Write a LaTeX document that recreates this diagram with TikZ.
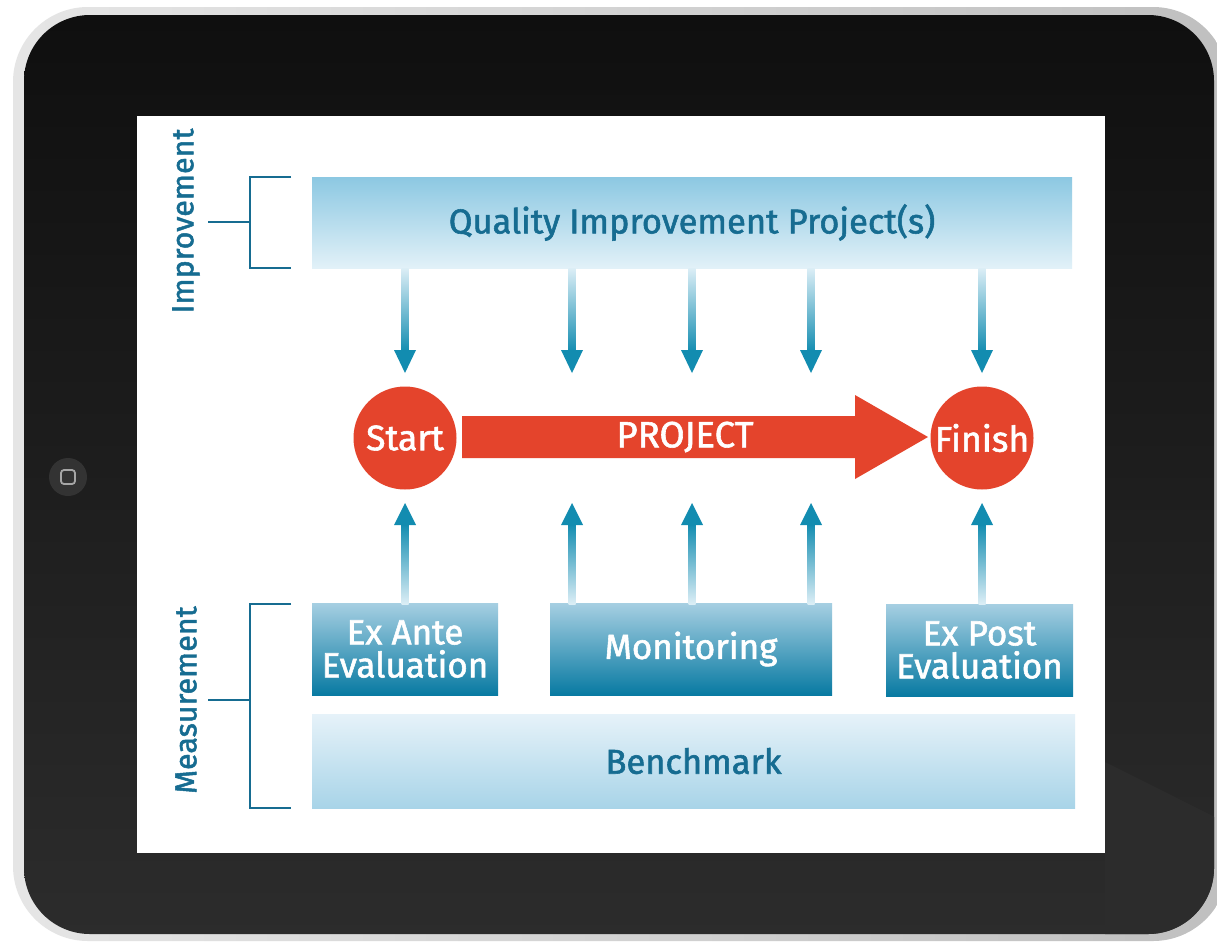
\documentclass[tikz,border=0pt]{standalone}
\usepackage{fontspec}
\setmainfont{Fira Sans}
\newfontfamily\diagfont{Fira Sans}[FakeBold=1.6]
\usetikzlibrary{positioning}

\definecolor{tealtext}{RGB}{22,108,145}
\definecolor{projred}{RGB}{228,68,44}
\definecolor{boxdark}{RGB}{8,122,162}
\definecolor{boxlight}{RGB}{166,207,226}
\definecolor{bartop}{RGB}{140,200,226}
\definecolor{barbottom}{RGB}{226,241,248}
\definecolor{benchtop}{RGB}{230,242,249}
\definecolor{benchbottom}{RGB}{168,212,232}
\definecolor{arrowblue}{RGB}{18,140,176}
\definecolor{arrowpale}{RGB}{220,238,246}
\definecolor{bezel}{RGB}{15,15,15}

\tikzset{
  lightbar/.style={inner sep=0pt, text=tealtext, font=\diagfont\fontsize{34.5}{38}\selectfont},
  measbox/.style={inner sep=0pt, top color=boxlight, bottom color=boxdark, text=white,
    align=center, minimum height=92pt, font=\diagfont\fontsize{35}{38}\selectfont},
  stage/.style={circle, fill=projred, text=white, inner sep=0pt, minimum size=103pt,
    font=\diagfont\fontsize{35.5}{38}\selectfont},
  bracket/.style={draw=tealtext, line width=2.8pt},
  sidelabel/.style={rotate=90, text=tealtext, font=\diagfont\fontsize{30.5}{34}\selectfont}
}

\begin{document}
\begin{tikzpicture}[x=1pt,y=-1pt]
	\useasboundingbox (0,0) rectangle (1217,943);
	% tablet
	\fill[white] (0,0) rectangle (1217,943);
	\shade[left color=gray!20, right color=gray!50, rounded corners=75pt] (13,7) rectangle (1228,941);
	\shade[top color=bezel, bottom color=bezel!88!white, rounded corners=66pt] (24,15) rectangle (1214,934);
	\begin{scope}
		\clip[rounded corners=66pt] (24,15) rectangle (1214,934);
		\fill[bezel!88!white] (1105,762) -- (1217,818) -- (1217,943) -- (1105,943) -- cycle;
	\end{scope}
	\fill[black!80] (68,477) circle (19pt);
	\draw[gray!70, line width=1.8pt, rounded corners=3pt] (61,470) rectangle (75,484);
	% screen
	\fill[white] (137,116) rectangle (1105,853);

	% improvement
	\node[lightbar, top color=bartop, bottom color=barbottom, minimum width=760pt, minimum height=91pt] (qip) at (692,222.5) {Quality Improvement Project(s)};
	\node[sidelabel] (imp) at (186,221) {Improvement};
	\draw[bracket] (291,177) -- (250,177) -- (250,268) -- (291,268);
	\draw[bracket] (208,222) -- (250,222);

	% project
	\node[stage] (start) at (405,438) {Start};
	\node[stage] (finish) at (982,438) {Finish};
	\fill[projred] (462,416) -- (855,416) -- (855,395) -- (928,437) -- (855,479) -- (855,458) -- (462,458) -- cycle;
	\node[text=white, font=\diagfont\fontsize{36.5}{40}\selectfont] (proj) at (685,437) {PROJECT};

	% measurement
	\node[measbox, minimum width=186pt] (exante) at (405,649) {Ex Ante\\[-5pt]Evaluation};
	\node[measbox, minimum width=282pt] (monitor) at (691,649) {Monitoring};
	\node[measbox, minimum width=187pt] (expost) at (979.5,650) {Ex Post\\[-5pt]Evaluation};
	\node[lightbar, top color=benchtop, bottom color=benchbottom, minimum width=763pt, minimum height=94pt] (bench) at (693.5,761) {Benchmark};
	\node[sidelabel] (meas) at (186,700) {Measurement};
	\draw[bracket] (291,604) -- (250,604) -- (250,808) -- (291,808);
	\draw[bracket] (208,700) -- (250,700);

	% arrows
	\foreach \x in {405,572,692,811,982} {
		\shade[top color=arrowpale, bottom color=arrowblue] (\x-3.5,268) rectangle (\x+3.5,352);
		\fill[arrowblue] (\x-11,350) -- (\x+11,350) -- (\x,373) -- cycle;
		\shade[top color=arrowblue, bottom color=arrowpale] (\x-3.5,524) rectangle (\x+3.5,604);
		\fill[arrowblue] (\x-11,525) -- (\x+11,525) -- (\x,503) -- cycle;
	}
\end{tikzpicture}
\end{document}
